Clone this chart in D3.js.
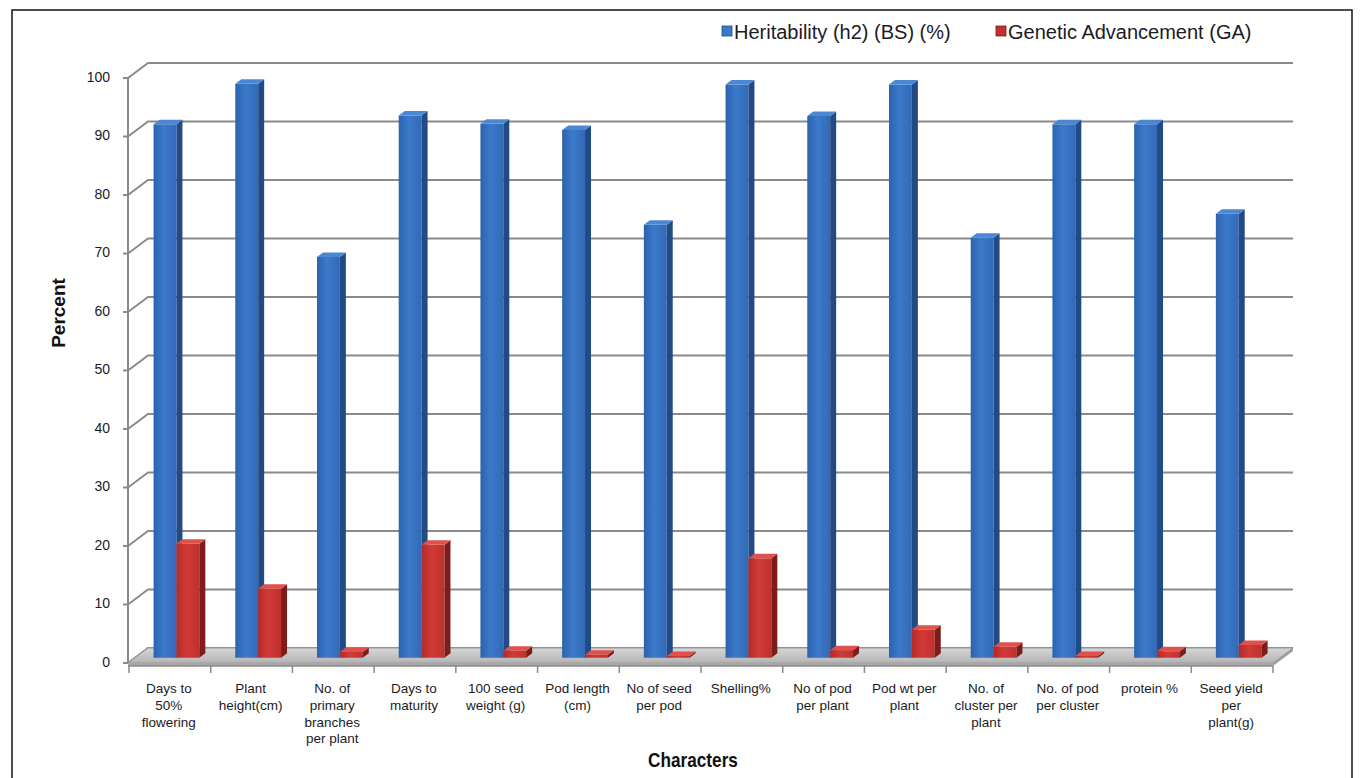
<!DOCTYPE html>
<html>
<head>
<meta charset="utf-8">
<script src="https://cdn.jsdelivr.net/npm/d3@7"></script>
<style>
  html, body { margin: 0; padding: 0; background: #fff; }
  svg { display: block; font-family: "Liberation Sans", Arial, sans-serif; }
</style>
</head>
<body>
<svg id="chart" width="1362" height="778"></svg>
<script>
// Characters measured, one label line per array entry
const categories = [
  ["Days to", "50%", "flowering"],
  ["Plant", "height(cm)"],
  ["No. of", "primary", "branches", "per plant"],
  ["Days to", "maturity"],
  ["100 seed", "weight (g)"],
  ["Pod length", "(cm)"],
  ["No of seed", "per pod"],
  ["Shelling%"],
  ["No of pod", "per plant"],
  ["Pod wt per", "plant"],
  ["No. of", "cluster per", "plant"],
  ["No. of pod", "per cluster"],
  ["protein %"],
  ["Seed yield", "per", "plant(g)"]
];
const heritability = [91.2, 98.1, 68.5, 92.7, 91.3, 90.2, 74.0, 98.0, 92.6, 98.0, 71.8, 91.2, 91.2, 75.9];
const geneticAdvance = [19.5, 11.8, 1.0, 19.3, 1.2, 0.5, 0.3, 17.0, 1.3, 4.8, 1.9, 0.3, 1.1, 2.2];
const seriesNames = ["Heritability (h2) (BS) (%)", "Genetic Advancement (GA)"];
const yTicks = [0, 10, 20, 30, 40, 50, 60, 70, 80, 90, 100];

const svg = d3.select("#chart");
const defs = svg.append("defs");

// oblique projection of the 3-D box: depth 0 = front plane, 1 = back wall
const DX = 20, DY = 15;
const x0 = d3.scaleBand().domain(d3.range(categories.length)).range([129, 1273]).padding(0);
const x1 = d3.scaleBand().domain([0, 1])
  .range([x0.bandwidth() * 0.215, x0.bandwidth() * 0.775]).padding(0);
const y = d3.scaleLinear().domain([0, 100]).range([663, 78]);
const P = (xf, v, d) => [xf + DX * d, y(v) - DY * d];

// gradients for the bar faces
function hGrad(id, stops) {
  const g = defs.append("linearGradient").attr("id", id)
    .attr("x1", "0").attr("x2", "1").attr("y1", "0").attr("y2", "0");
  stops.forEach(([o, c]) => g.append("stop").attr("offset", o).attr("stop-color", c));
}
hGrad("blueFront", [[0, "#2c62ad"], [0.45, "#3b7acb"], [1, "#3369b6"]]);
hGrad("redFront", [[0, "#b42a28"], [0.45, "#d13b37"], [1, "#bf302d"]]);
const vg = defs.append("linearGradient").attr("id", "floorGrad")
  .attr("x1", "0").attr("x2", "0").attr("y1", "0").attr("y2", "1");
vg.append("stop").attr("offset", 0).attr("stop-color", "#d6d6d6");
vg.append("stop").attr("offset", 1).attr("stop-color", "#b4b4b4");

const palette = [
  { front: "url(#blueFront)", side: "#224b85", top: "#4a88d6", key: "#3b78c8" },
  { front: "url(#redFront)", side: "#7d1d1b", top: "#e0514b", key: "#c0302c" }
];

// outer frame
svg.append("rect").attr("x", 12).attr("y", 10).attr("width", 1340).attr("height", 790)
  .attr("fill", "#fff").attr("stroke", "#222").attr("stroke-width", 1.6);

const grid = svg.append("g").attr("stroke", "#8a8a8a").attr("stroke-width", 2).attr("fill", "none");
const xL = x0.range()[0] - 1, xR = x0.range()[1];

// back-wall gridlines and left-wall diagonals
yTicks.forEach(v => {
  const a = P(xL, v, 0), b = P(xL, v, 1), c = P(xR, v, 1);
  grid.append("path").attr("d", `M${a}L${b}L${c}`);
});
// vertical value axis on the front-left edge
grid.append("line").attr("x1", xL).attr("x2", xL).attr("y1", y(0)).attr("y2", y(100));
// value ticks
yTicks.forEach(v => {
  grid.append("line").attr("x1", xL - 5).attr("x2", xL).attr("y1", y(v)).attr("y2", y(v));
});

// floor
const f0 = P(xL, 0, 0), f1 = P(xR, 0, 0), f2 = P(xR, 0, 1), f3 = P(xL, 0, 1);
svg.append("path").attr("d", `M${f0}L${f1}L${f2}L${f3}Z`)
  .attr("fill", "url(#floorGrad)").attr("stroke", "#9a9a9a").attr("stroke-width", 1);
svg.append("path").attr("d", `M${f0}L${f1}L${f1[0]},${f1[1] + 3}L${f0[0]},${f0[1] + 3}Z`)
  .attr("fill", "#a9a9a9");
svg.append("path").attr("d", `M${f1}L${f2}L${f2[0]},${f2[1] + 3}L${f1[0]},${f1[1] + 3}Z`)
  .attr("fill", "#9c9c9c");

// category axis line and ticks
const axisG = svg.append("g").attr("stroke", "#8a8a8a").attr("stroke-width", 1.5);
axisG.append("line").attr("x1", xL).attr("x2", xR).attr("y1", y(0) + 3).attr("y2", y(0) + 3);
d3.range(categories.length + 1).forEach(i => {
  const xx = i < categories.length ? x0(i) : xR;
  axisG.append("line").attr("x1", xx).attr("x2", xx).attr("y1", y(0) + 3).attr("y2", y(0) + 10);
});

// 3-D bars
const D0 = 0.35, D1 = 0.65;
const barsG = svg.append("g");
categories.forEach((c, i) => {
  [heritability[i], geneticAdvance[i]].forEach((v, s) => {
    const xa = x0(i) + x1(s), xb = xa + x1.bandwidth();
    const pal = palette[s];
    const g = barsG.append("g");
    const tl = P(xa, v, D0), tr = P(xb, v, D0), bl = P(xa, 0, D0), br = P(xb, 0, D0);
    const trB = P(xb, v, D1), tlB = P(xa, v, D1), brB = P(xb, 0, D1);
    g.append("path").attr("d", `M${tl}L${tr}L${br}L${bl}Z`).attr("fill", pal.front);
    g.append("path").attr("d", `M${tr}L${trB}L${brB}L${br}Z`).attr("fill", pal.side);
    g.append("path").attr("d", `M${tl}L${tr}L${trB}L${tlB}Z`).attr("fill", pal.top);
  });
});

// value-axis labels
const textColor = "#1b1b26";
svg.append("g").selectAll("text").data(yTicks).join("text")
  .attr("x", 110).attr("y", d => y(d) - 1).attr("dy", "0.35em")
  .attr("text-anchor", "end").attr("font-size", 14).attr("fill", textColor)
  .text(d => d);

// category labels
const catG = svg.append("g").attr("font-size", 13.5).attr("fill", textColor).attr("text-anchor", "middle");
categories.forEach((lines, i) => {
  const cx = x0(i) + x0.bandwidth() / 2 - 1;
  const t = catG.append("text").attr("x", cx).attr("y", 693);
  lines.forEach((ln, k) => t.append("tspan").attr("x", cx)
    .attr("dy", k === 0 ? 0 : 16.8).text(ln));
});

// axis titles
svg.append("text").attr("transform", "translate(65,313) rotate(-90)")
  .attr("text-anchor", "middle").attr("font-size", 19).attr("font-weight", "bold")
  .attr("fill", "#111").text("Percent");
// condensed title: bold face squeezed horizontally
svg.append("text").attr("transform", "translate(693,767) scale(0.86,1)")
  .attr("text-anchor", "middle")
  .attr("font-size", 20).attr("font-weight", "bold").attr("fill", "#111")
  .text("Characters");

// legend
const legendX = [722, 996];
const leg = svg.append("g");
seriesNames.forEach((name, s) => {
  leg.append("rect").attr("x", legendX[s]).attr("y", 26).attr("width", 10).attr("height", 10)
    .attr("fill", palette[s].key).attr("stroke", s === 0 ? "#1f4e8a" : "#7d1d1b").attr("stroke-width", 0.8);
  leg.append("text").attr("x", legendX[s] + 12).attr("y", 38.5).attr("font-size", 20)
    .attr("fill", textColor).text(name);
});
</script>
</body>
</html>
